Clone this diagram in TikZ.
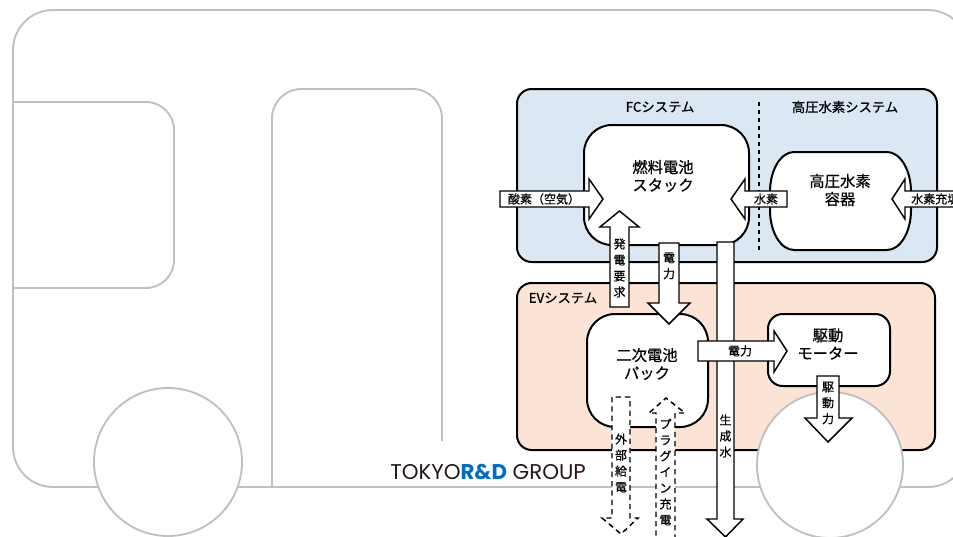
\documentclass[tikz,border=0pt]{standalone}
\usepackage{fontspec}
\setmainfont{Noto Sans CJK JP}[FakeBold = 0.6]
\newfontfamily\logofont{Poppins}
\definecolor{fcblue}{RGB}{220,231,244}
\definecolor{evpeach}{RGB}{251,227,213}
\definecolor{busgray}{RGB}{192,192,192}
\definecolor{rdblue}{RGB}{0,110,190}
\definecolor{logoblack}{RGB}{35,24,21}
\tikzset{
	busline/.style = {line width = 1.4pt, color = busgray},
	sysbox/.style = {line width = 1.5pt, rounded corners = 11pt},
	unitbox/.style = {line width = 1.5pt, fill = white},
	fatarrow/.style = {line width = 1.1pt, fill = white, line join = miter},
	dasharrow/.style = {fatarrow, dash pattern = on 4pt off 3pt},
	unittext/.style = {font = \fontsize{11.5}{13.5}\selectfont, align = center},
	syslabel/.style = {font = \fontsize{10}{12}\selectfont},
	arrowtext/.style = {font = \fontsize{9}{12}\selectfont, align = center, inner sep = 0pt}
}
\begin{document}
\begin{tikzpicture}[x = 0.75pt, y = -0.75pt]
	\useasboundingbox (0,0) rectangle (953,536);
	% bus body
	\draw[busline, rounded corners = 30pt] (13,10) rectangle (968,487);
	\draw[busline, rounded corners = 21pt] (13,102) -- (174,102) -- (174,288) -- (13,288);
	\draw[busline, rounded corners = 22pt] (272,487) -- (272,89) -- (442,89) -- (442,441);
	\node[anchor = base west, inner sep = 0pt, font = \logofont\fontsize{16}{16}\selectfont, text = logoblack] (logo) at (390,479) {TOKYO\textcolor{rdblue}{\bfseries R\&D} GROUP};

	% systems
	\draw[sysbox, fill = fcblue] (517,89) rectangle (937,262);
	\draw[sysbox, fill = evpeach] (517,283) rectangle (935,450);
	\node[syslabel] (fclabel) at (660,107) {FCシステム};
	\node[syslabel] (h2label) at (845,107) {高圧水素システム};
	\node[syslabel, anchor = west] (evlabel) at (524,298) {EVシステム};
	\draw[line width = 1pt, dashed] (759,102) -- (759,250);

	% wheels
	\draw[busline, fill = white] (168,462) circle (55.5pt);
	\draw[busline, fill = white] (830,465) circle (54.75pt);

	% units
	\draw[unitbox, rounded corners = 21pt] (584,125) rectangle (749,245);
	\draw[unitbox] (794,152) -- (887,152)
		arc[start angle = 90, end angle = 0, x radius = 18pt, y radius = 30pt] -- (911,210)
		arc[start angle = 0, end angle = -90, x radius = 18pt, y radius = 30pt] -- (794,250)
		arc[start angle = 270, end angle = 180, x radius = 18pt, y radius = 30pt] -- (770,192)
		arc[start angle = 180, end angle = 90, x radius = 18pt, y radius = 30pt] -- cycle;
	\draw[unitbox, rounded corners = 21pt] (587,314) rectangle (708,427);
	\draw[unitbox, rounded corners = 11pt] (768,314) rectangle (890,386);
	\node[unittext] (stack) at (663,176) {燃料電池\\スタック};
	\node[unittext] (tank) at (840,190) {高圧水素\\容器};
	\node[unittext] (battery) at (647,364) {二次電池\\パック};
	\node[unittext] (motor) at (828,344) {駆動\\モーター};

	% flows
	\draw[fatarrow] (500,191) -- (589,191) -- (589,179) -- (603,199) -- (589,219) -- (589,207) -- (500,207) -- cycle;
	\node[arrowtext] (oxygen) at (544,199) {酸素（空気）};
	\draw[fatarrow] (787,191) -- (745,191) -- (745,179) -- (731,199) -- (745,219) -- (745,207) -- (787,207) -- cycle;
	\node[arrowtext] (hydrogen) at (766,199) {水素};
	\draw[fatarrow] (965,191) -- (905,191) -- (905,179) -- (892,199) -- (905,219) -- (905,207) -- (965,207) -- cycle;
	\node[arrowtext, anchor = west] (refuel) at (911,199) {水素充填};
	\draw[fatarrow] (610,307) -- (610,227) -- (600,227) -- (619.5,211) -- (639,227) -- (629,227) -- (629,307) -- cycle;
	\node[arrowtext] (request) at (619.5,268) {発\\電\\要\\求};
	\draw[fatarrow] (659,243) -- (659,303) -- (648,303) -- (669,324) -- (690,303) -- (679,303) -- (679,243) -- cycle;
	\node[arrowtext] (fcpower) at (669,266) {電\\力};
	\draw[fatarrow] (717,242) -- (717,519) -- (707,519) -- (725.5,537) -- (743,519) -- (734,519) -- (734,242) -- cycle;
	\node[arrowtext] (water) at (725.5,436) {生\\成\\水};
	\draw[fatarrow] (698,341) -- (774,341) -- (774,331) -- (787,351) -- (774,372) -- (774,361) -- (698,361) -- cycle;
	\node[arrowtext] (power) at (740,351) {電力};
	\draw[fatarrow] (817,376) -- (817,418) -- (805,418) -- (828,442) -- (852,418) -- (839,418) -- (839,376) -- cycle;
	\node[arrowtext] (drive) at (828,403) {駆\\動\\力};
	\draw[dasharrow] (612,397) -- (612,518) -- (602,518) -- (621,534) -- (638,518) -- (630,518) -- (630,397) -- cycle;
	\node[arrowtext] (supply) at (621,463) {外\\部\\給\\電};
	\draw[dasharrow] (656,545) -- (656,413) -- (649,413) -- (666,398) -- (685,413) -- (675,413) -- (675,545);
	\node[arrowtext] (plugin) at (665.5,472) {プ\\ラ\\グ\\イ\\ン\\充\\電};
\end{tikzpicture}
\end{document}
